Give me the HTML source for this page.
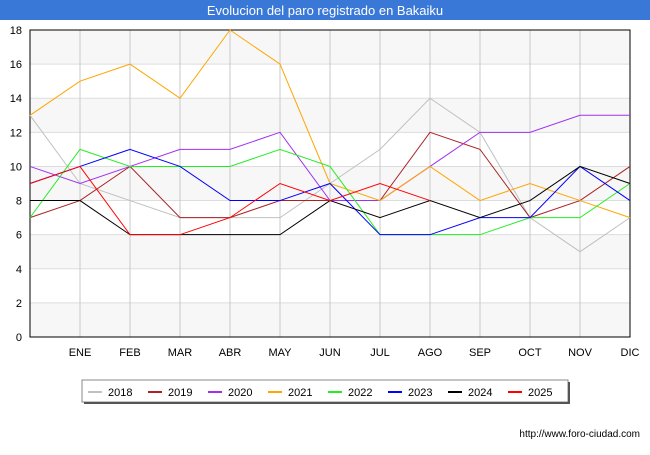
<!DOCTYPE html>
<html><head><meta charset="utf-8"><style>
body{margin:0;width:650px;height:450px;background:#fff;font-family:"Liberation Sans",sans-serif;overflow:hidden}
</style></head><body>
<svg width="650" height="450" id="svg" font-family="Liberation Sans, sans-serif">
<rect x="0" y="0" width="650" height="20" fill="#3a78d8"/>
<text x="325" y="15" text-anchor="middle" fill="#fff" font-size="13">Evolucion del paro registrado en Bakaiku</text>
<g id="plot"></g>
<text x="640" y="437" text-anchor="end" font-size="10" fill="#000">http://www.foro-ciudad.com</text>
</svg>
<script>
const months=["","ENE","FEB","MAR","ABR","MAY","JUN","JUL","AGO","SEP","OCT","NOV","DIC"];
const yTicks=[0,2,4,6,8,10,12,14,16,18];
const years=["2018","2019","2020","2021","2022","2023","2024","2025"];
const colors=["#c0c0c0","#aa2222","#a030f0","#ffa500","#22ee22","#0000ff","#000000","#ff0000"];
const s2018=[13,9,8,7,7,7,9,11,14,12,7,5,7];
const s2019=[7,8,10,7,7,8,8,8,12,11,7,8,10];
const s2020=[10,9,10,11,11,12,8,8,10,12,12,13,13];
const s2021=[13,15,16,14,18,16,9,8,10,8,9,8,7];
const s2022=[7,11,10,10,10,11,10,6,6,6,7,7,9];
const s2023=[9,10,11,10,8,8,9,6,6,7,7,10,8];
const s2024=[8,8,6,6,6,6,8,7,8,7,8,10,9];
const s2025=[9,10,6,6,7,9,8,9,8];
const series=[s2018,s2019,s2020,s2021,s2022,s2023,s2024,s2025];
const L=30,R=630,T=30,B=337;
const x=i=>L+i*(R-L)/12;
const y=v=>B-v*(B-T)/18;
const NS="http://www.w3.org/2000/svg";
const g=document.getElementById('plot');
function mk(t,a){const e=document.createElementNS(NS,t);for(const k in a)e.setAttribute(k,a[k]);g.appendChild(e);return e;}
for(let i=0;i<yTicks.length-1;i++){
 if(i%2==0){const r=mk('rect',{x:L,y:y(yTicks[i+1]),width:R-L,height:y(yTicks[i])-y(yTicks[i+1]),fill:'#f7f7f7'});
 
 }
}
yTicks.forEach(v=>{
 const l=mk('line',{x1:L,x2:R,y1:y(v),y2:y(v),stroke:'#dddddd'});
 
 
 const t=mk('text',{x:L-8,y:y(v)+4,'text-anchor':'end','font-size':11});
 t.textContent=v;
 
 
});
months.forEach((m,i)=>{
 const l=mk('line',{x1:x(i),x2:x(i),y1:T,y2:B,stroke:'#c8c8c8'});
 
 
 if(m){const t=mk('text',{x:x(i),y:B+19,'text-anchor':'middle','font-size':11});
 t.textContent=m;
 
 }
});
const fr=mk('rect',{x:L,y:T,width:R-L,height:B-T,fill:'none',stroke:'#000'});


series.forEach((s,k)=>{
 const p=mk('polyline',{points:s.map((v,i)=>x(i)+','+y(v)).join(' '),fill:'none',stroke:colors[k],'stroke-width':1});
 
 
});
const lg=mk('rect',{x:82,y:380,width:486,height:22,fill:'#fff',stroke:'#888'});


mk('line',{x1:84,x2:570,y1:403,y2:403,stroke:'#555','stroke-width':2});
mk('line',{x1:569,x2:569,y1:382,y2:404,stroke:'#555','stroke-width':2});
years.forEach((yr,k)=>{
 const bx=88+k*60;
 const l=mk('line',{x1:bx,x2:bx+14,y1:392,y2:392,stroke:colors[k],'stroke-width':2});
 
 
 const t=mk('text',{x:bx+20,y:396,'font-size':11});
 t.textContent=yr;
 
 
});
</script>
</body></html>
